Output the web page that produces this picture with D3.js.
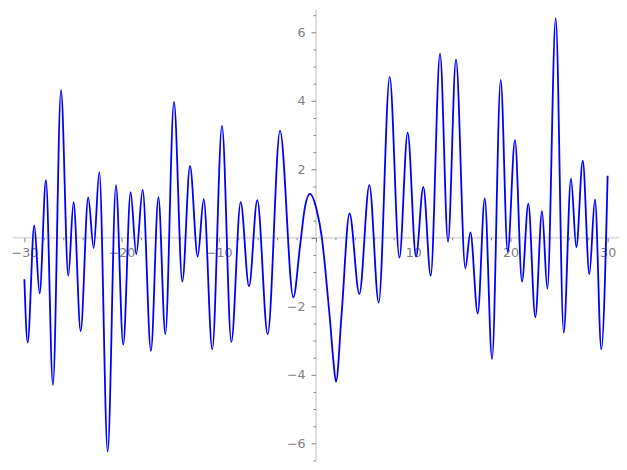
<!DOCTYPE html>
<html>
<head>
<meta charset="utf-8">
<script src="https://cdn.jsdelivr.net/npm/d3@7"></script>
<style>
  html, body { margin: 0; padding: 0; background: #fff; }
  svg { display: block; }
  .tick text { font-family: "DejaVu Sans", sans-serif; font-size: 12.6px; fill: #808080; }
  .tick line { stroke: #808080; }
</style>
</head>
<body>
<svg id="chart" width="627" height="470"></svg>
<script>
// Knot points of the curve (local extrema and a few shoulder points)
const xValues = [
  -30.00, -29.66, -28.98, -28.43, -27.78, -27.06, -26.23, -25.48, -24.94, -24.21,
  -23.43, -22.87, -22.29, -21.43, -20.58, -19.83, -19.07, -18.49, -17.83, -16.98,
  -16.21, -15.50, -14.61, -13.75, -12.96, -12.17, -11.55, -10.67, -9.67, -8.71,
  -7.75, -6.89, -6.04, -4.97, -3.70, -2.33, -1.65, -1.13, -0.62, 0.07,
  0.59, 0.93, 1.44, 1.78, 2.06, 2.64, 3.45, 4.46, 5.49, 6.45,
  7.58, 8.58, 9.43, 10.29, 11.04, 11.80, 12.76, 13.58, 14.40, 15.36,
  15.88, 16.64, 17.36, 18.11, 19.00, 19.72, 20.47, 21.19, 21.84, 22.56,
  23.25, 23.80, 24.66, 25.48, 26.23, 26.78, 27.44, 28.12, 28.70, 29.35,
  30.00
];
const yValues = [
  -1.21, -3.06, 0.36, -1.62, 1.68, -4.30, 4.31, -1.11, 1.04, -2.72,
  1.18, -0.30, 1.92, -6.24, 1.54, -3.12, 1.33, -0.48, 1.40, -3.30,
  1.19, -2.81, 3.97, -1.28, 2.10, -0.55, 1.13, -3.26, 3.27, -3.04,
  1.04, -1.42, 1.10, -2.81, 3.13, -1.74, -0.26, 0.91, 1.28, 0.81,
  0.03, -0.84, -2.40, -3.57, -4.20, -2.20, 0.71, -1.64, 1.54, -1.89,
  4.70, -0.58, 3.07, -0.55, 1.49, -1.11, 5.38, -0.11, 5.21, -0.89,
  0.16, -2.21, 1.15, -3.54, 4.61, -0.41, 2.85, -1.28, 1.00, -2.32,
  0.78, -1.49, 6.41, -2.77, 1.73, -0.28, 2.25, -1.06, 1.12, -3.26,
  1.81
];
const xMajorTicks = [-30, -20, -10, 0, 10, 20, 30];
const xMinorTicks = [-28, -26, -24, -22, -18, -16, -14, -12, -8, -6, -4, -2, 2, 4, 6, 8, 12, 14, 16, 18, 22, 24, 26, 28];
const yMajorTicks = [-6, -4, -2, 0, 2, 4, 6];
const yMinorTicks = [-6.5, -5.5, -5, -4.5, -3.5, -3, -2.5, -1.5, -1, -0.5, 0.5, 1, 1.5, 2.5, 3, 3.5, 4.5, 5, 5.5, 6.5];
const xDomain = [-31.2, 31.2];
const yDomain = [-6.49, 6.66];

const svg = d3.select("#chart");
const x = d3.scaleLinear().domain(xDomain).range([12.7, 619.3]);
const y = d3.scaleLinear().domain(yDomain).range([460.1, 9.7]);

const fmt = d => (d === 0 ? "" : d3.format("d")(d));
const axisColor = "#e0e0e0";

// axis lines
svg.append("line")
  .attr("x1", x.range()[0]).attr("x2", x.range()[1])
  .attr("y1", y(0)).attr("y2", y(0))
  .attr("stroke", axisColor).attr("stroke-width", 2);
svg.append("line")
  .attr("x1", x(0)).attr("x2", x(0))
  .attr("y1", y.range()[0]).attr("y2", y.range()[1])
  .attr("stroke", axisColor).attr("stroke-width", 2);

// x axis ticks
const gx = svg.append("g").attr("transform", `translate(0,${y(0)})`);
gx.append("g").call(d3.axisBottom(x).tickValues(xMinorTicks).tickSize(2.5).tickFormat(""))
  .call(g => g.select(".domain").remove());
gx.append("g").call(d3.axisBottom(x).tickValues(xMajorTicks).tickSize(4.5).tickPadding(6).tickFormat(fmt))
  .call(g => g.select(".domain").remove());

// y axis ticks
const gy = svg.append("g").attr("transform", `translate(${x(0)},0)`);
gy.append("g").call(d3.axisLeft(y).tickValues(yMinorTicks).tickSize(2.5).tickFormat(""))
  .call(g => g.select(".domain").remove());
gy.append("g").call(d3.axisLeft(y).tickValues(yMajorTicks).tickSize(4.5).tickPadding(6).tickFormat(fmt))
  .call(g => g.select(".domain").remove());

svg.selectAll(".tick text").attr("font-family", null).attr("font-size", null);

// curve
const pts = xValues.map((v, i) => [v, yValues[i]]);
const line = d3.line().x(d => x(d[0])).y(d => y(d[1])).curve(d3.curveMonotoneX);
svg.append("path")
  .datum(pts)
  .attr("d", line)
  .attr("fill", "none")
  .attr("stroke", "#0000ff")
  .attr("stroke-width", 1.8);
</script>
</body>
</html>
